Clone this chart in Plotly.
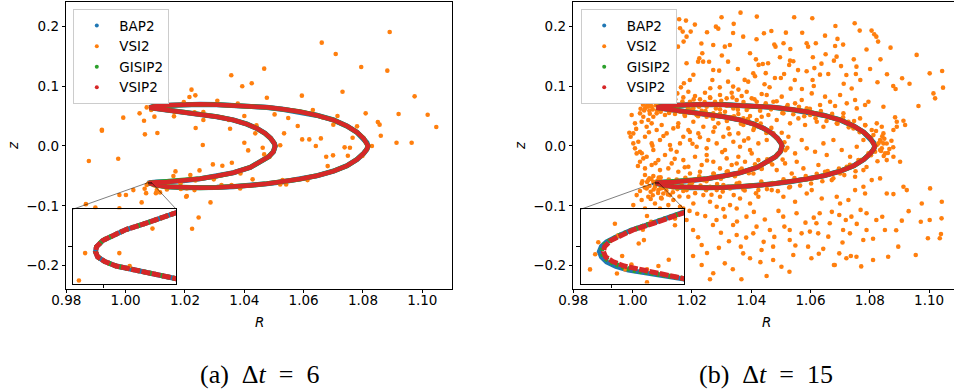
import plotly.graph_objects as go

# ---------------- data ----------------
SERIES = ["BAP2", "VSI2", "GISIP2", "VSIP2"]
COLORS = {"BAP2": "#1f77b4", "VSI2": "#ff7f0e", "GISIP2": "#2ca02c", "VSIP2": "#d62728"}
CAPTIONS = ["(a)\u00a0 Δ<i>t</i>\u00a0 =\u00a0 6", "(b)\u00a0 Δ<i>t</i>\u00a0 =\u00a0 15"]

# banana orbit (R, z): upper tip -> outer arc -> near lower tip
ORBIT_OUTER = [
    (1.0080, 0.0640), (1.0095, 0.0662), (1.0139, 0.0679), (1.0195, 0.0690), (1.0251, 0.0696),
    (1.0307, 0.0690), (1.0363, 0.0679), (1.0420, 0.0662), (1.0476, 0.0646), (1.0532, 0.0612),
    (1.0588, 0.0573), (1.0645, 0.0512), (1.0701, 0.0434), (1.0746, 0.0333), (1.0780, 0.0227),
    (1.0802, 0.0127), (1.0813, 0.0055), (1.0817, 0.0000), (1.0813, -0.0055), (1.0802, -0.0124),
    (1.0780, -0.0224), (1.0746, -0.0330), (1.0701, -0.0419), (1.0645, -0.0497), (1.0588, -0.0553),
    (1.0532, -0.0598), (1.0476, -0.0631), (1.0420, -0.0659), (1.0363, -0.0681), (1.0307, -0.0692),
    (1.0251, -0.0698), (1.0195, -0.0698), (1.0139, -0.0681), (1.0105, -0.0659),
]
# near lower tip -> inner arc -> back to upper tip
ORBIT_INNER = [
    (1.0105, -0.0605), (1.0139, -0.0603), (1.0195, -0.0581), (1.0251, -0.0547), (1.0307, -0.0503),
    (1.0363, -0.0447), (1.0420, -0.0358), (1.0453, -0.0274), (1.0482, -0.0180), (1.0498, -0.0096),
    (1.0504, 0.0000), (1.0501, 0.0044), (1.0489, 0.0127), (1.0470, 0.0211), (1.0442, 0.0294),
    (1.0408, 0.0367), (1.0363, 0.0434), (1.0307, 0.0489), (1.0251, 0.0528), (1.0195, 0.0568),
    (1.0139, 0.0601), (1.0105, 0.0615), (1.0090, 0.0624), (1.0080, 0.0640),
]
# lower tip detail (seen in the insets): from inner-branch end round the tip to outer-branch end
TIP_A = [
    (1.00870, -0.06109), (1.00854, -0.06125), (1.00838, -0.06140), (1.00821, -0.06155),
    (1.00809, -0.06171), (1.00799, -0.06184), (1.00793, -0.06201), (1.00792, -0.06214),
    (1.00794, -0.06228), (1.00801, -0.06241), (1.00812, -0.06253), (1.00828, -0.06264),
    (1.00847, -0.06274), (1.00870, -0.06287),
]
TIP_B_BAP2 = [
    (1.00870, -0.06107), (1.00851, -0.06126), (1.00835, -0.06141), (1.00819, -0.06156),
    (1.00806, -0.06172), (1.00795, -0.06188), (1.00790, -0.06200), (1.00788, -0.06214),
    (1.00790, -0.06228), (1.00795, -0.06242), (1.00804, -0.06254), (1.00816, -0.06264),
    (1.00832, -0.06273), (1.00851, -0.06280), (1.00870, -0.06288),
]
TIP_B_GISIP2 = [
    (1.00870, -0.06108), (1.00852, -0.06126), (1.00836, -0.06140), (1.00820, -0.06155),
    (1.00807, -0.06171), (1.00797, -0.06186), (1.00791, -0.06200), (1.00790, -0.06214),
    (1.00792, -0.06228), (1.00798, -0.06241), (1.00808, -0.06253), (1.00820, -0.06264),
    (1.00837, -0.06273), (1.00849, -0.06277), (1.00870, -0.06287),
]
TIPS = {
    "a": {"BAP2": TIP_A, "GISIP2": TIP_A, "VSIP2": TIP_A},
    "b": {"BAP2": TIP_B_BAP2, "GISIP2": TIP_B_GISIP2, "VSIP2": TIP_A},
}

VSI2_A = [
    (1.089, 0.1905), (1.0661, 0.1727), (1.0708, 0.1537), (1.0794, 0.132), (1.0882, 0.1259),
    (1.0467, 0.1292), (1.0356, 0.1181), (1.0425, 0.1047), (1.0393, 0.0997), (1.0222, 0.0941),
    (1.0731, 0.0907), (1.0594, 0.0841), (1.0974, 0.0829), (1.0235, 0.0846), (1.0215, 0.0818),
    (1.0139, 0.0768), (1.0127, 0.074), (1.0476, 0.0807), (1.0309, 0.0757), (1.0378, 0.0707),
    (1.0196, 0.0735), (1.1018, 0.0523), (1.1047, 0.0317), (1.0913, 0.0055), (1.0964, 0.0055),
    (1.092, 0.0534), (1.0809, 0.0545), (1.085, 0.04), (1.0856, 0.0356), (1.086, 0.0172),
    (1.083, 0.0), (1.078, 0.0328), (1.0765, 0.0138), (1.0756, -0.0029), (1.0749, -0.0163),
    (1.0714, 0.05), (1.07, 0.0356), (1.0699, -0.0157), (1.0676, -0.018), (1.0681, -0.0336),
    (1.0631, 0.0601), (1.0663, 0.0478), (1.058, 0.0333), (1.0595, 0.011), (1.0619, 0.011),
    (1.0641, -0.0001), (1.0658, 0.0127), (1.0534, 0.0211), (1.0548, 0.0467), (1.0502, 0.0528),
    (1.04, 0.05), (1.0441, 0.0344), (1.0437, 0.0211), (1.04, 0.0055), (1.0413, -0.0074),
    (1.0462, -0.0029), (1.0467, -0.0141), (1.0521, 0.0011), (1.0485, -0.018), (1.0352, 0.0289),
    (1.0348, 0.0434), (1.0324, 0.0473), (1.0262, 0.0567), (1.0262, 0.0434), (1.0236, 0.03),
    (1.0232, 0.0562), (1.026, 0.0016), (1.0165, 0.0567), (1.0163, 0.0495), (1.0196, 0.0567),
    (1.0071, 0.0645), (1.0086, 0.0601), (1.0097, 0.049), (1.0047, 0.0545), (1.0062, 0.0422),
    (1.0107, 0.0216), (1.0065, 0.0194), (0.9992, 0.0473), (0.992, 0.0272), (0.992, 0.0255),
    (0.9975, -0.0213), (0.9876, -0.0252), (1.0358, -0.028), (1.0326, -0.033), (1.0294, -0.0308),
    (1.0249, -0.0408), (1.0218, -0.0486), (1.0168, -0.0425), (1.0161, -0.0503), (1.0387, -0.0458),
    (1.0428, -0.0558), (1.0357, -0.0653), (1.0386, -0.0709), (1.0323, -0.0653), (1.0297, -0.0558),
    (1.0235, -0.0575), (1.0232, -0.0737), (1.0185, -0.0625), (1.0186, -0.072), (1.0139, -0.0726),
    (1.0105, -0.0737), (1.0116, -0.0776), (1.0064, -0.0715), (1.0071, -0.0653), (1.0097, -0.0659),
    (1.0142, -0.0625), (1.0206, -0.0709), (1.0529, -0.057), (1.0541, -0.0642), (1.0521, -0.0642),
    (1.0613, -0.057), (1.0206, -0.0837), (1.0054, -0.0943), (1.0026, -0.0737), (1.0001, -0.082),
    (0.9979, -0.082), (1.0286, -0.0943), (1.0246, -0.1194), (1.0224, -0.1383), (0.9866, -0.0972),
    (0.9898, -0.1027), (1.0738, -0.0023), (1.0798, -0.0168), (1.0069, -0.0788), (1.0102, -0.0788),
    (0.9979, -0.1043), (1.0204, -0.0849),
    (1.00847, -0.06152), (1.00815, -0.06218), (1.00782, -0.06218), (1.00825, -0.06253), (1.00776, -0.06292),
]

VSI2_B = [
    # upper region
    (1.0364, 0.2228), (1.03, 0.215), (1.0419, 0.2162), (1.0545, 0.215), (1.0606, 0.2134),
    (1.0766, 0.1928), (1.0806, 0.1928), (1.0684, 0.2006), (1.0649, 0.1844), (1.0157, 0.2117),
    (1.018, 0.2095), (1.021, 0.2028), (1.016, 0.1967), (1.0169, 0.1911), (1.0196, 0.1911),
    (1.0251, 0.19), (1.0281, 0.1994), (1.0289, 0.1961), (1.0339, 0.1889), (1.0443, 0.1883),
    (1.0517, 0.1894), (1.0815, 0.1866), (1.0822, 0.1827), (1.087, 0.1643), (1.0153, 0.166),
    (1.0182, 0.1827), (1.0172, 0.1744), (1.0225, 0.1465), (1.0235, 0.1549), (1.0221, 0.1409),
    (1.0238, 0.1409), (1.0182, 0.1382), (1.0272, 0.1688), (1.0328, 0.1688), (1.0373, 0.1827),
    (1.0418, 0.1783), (1.0396, 0.1549), (1.0416, 0.1448), (1.0439, 0.137), (1.0478, 0.1694),
    (1.0482, 0.166), (1.0509, 0.1716), (1.0531, 0.1426), (1.0528, 0.1354), (1.0587, 0.1716),
    (1.0592, 0.166), (1.0618, 0.1716), (1.0608, 0.1482), (1.0683, 0.1671), (1.071, 0.1694),
    (1.0688, 0.1493), (1.0679, 0.1426), (1.0746, 0.1448), (1.0828, 0.1744), (1.0755, 0.1326),
    (1.0836, 0.1448), (1.0637, 0.1376), (1.0542, 0.1415), (1.0457, 0.1382), (1.0311, 0.166),
    (1.0322, 0.1409), (1.0272, 0.127), (1.0292, 0.1259), (1.0269, 0.1103), (1.0322, 0.1075),
    (1.0294, 0.098), (1.0339, 0.0992), (1.039, 0.1075), (1.0407, 0.1214), (1.0413, 0.1164),
    (1.048, 0.1136), (1.05, 0.1136), (1.0511, 0.1203), (1.0445, 0.1031), (1.0533, 0.0958),
    (1.0587, 0.1248), (1.0607, 0.1103), (1.0611, 0.1003), (1.066, 0.1203), (1.0721, 0.1187),
    (1.0753, 0.1203), (1.0909, 0.1131), (1.1002, 0.1214), (1.1044, 0.1253), (1.0879, 0.1003),
    (1.1047, 0.0975), (1.0547, 0.1103), (1.0173, 0.1047), (1.0193, 0.1103), (1.0163, 0.098),
    (1.0125, 0.1321), (1.0141, 0.1183), (1.0108, 0.1052), (1.0205, 0.1191), (1.0258, 0.1408),
    (1.0301, 0.1512), (1.0355, 0.1287), (1.0378, 0.1104), (1.0449, 0.1217), (1.0462, 0.0982),
    (1.0497, 0.1482), (1.0558, 0.1268), (1.0571, 0.0951), (1.0632, 0.1192), (1.0651, 0.1534),
    (1.0703, 0.1335), (1.0712, 0.1041), (1.0768, 0.1102), (1.0789, 0.1611), (1.0801, 0.1287),
    (1.0858, 0.1199), (1.0887, 0.0952), (1.0934, 0.1041), (1.0232, 0.1712), (1.0341, 0.2041),
    (1.0468, 0.1921), (1.0572, 0.1893), (1.0691, 0.1789), (1.0749, 0.2051), (1.0262, 0.0965),
    (1.0357, 0.0942), (1.0425, 0.1355), (1.0613, 0.1301), (1.0532, 0.1621), (1.0131, 0.0998),
    (1.0098, 0.0951), (1.0061, 0.0922), (1.0739, 0.0961), (1.0826, 0.1065), (1.0958, 0.1522),
    # left / centre band (z 0.09 .. -0.105)
    (1.00418, 0.0868), (1.00609, 0.0812), (1.0090, 0.0890), (1.01036, 0.0796), (1.01205, 0.0851),
    (1.01374, 0.0768), (1.01509, 0.0879), (1.01711, 0.0812), (1.0188, 0.0907), (1.01936, 0.074),
    (1.02105, 0.0835), (1.02273, 0.0779), (1.02442, 0.089), (1.02611, 0.0812), (1.0278, 0.074),
    (1.02948, 0.0851), (1.03173, 0.0796), (1.03342, 0.089), (1.03511, 0.0768), (1.03679, 0.0835),
    (1.03848, 0.0907), (1.04017, 0.0796), (1.04186, 0.074), (1.04354, 0.0868), (1.00699, 0.074),
    (1.0053, 0.0712), (1.00305, 0.0768),
    (1.00418, 0.0628), (1.00564, 0.0589), (1.00812, 0.0545), (1.00946, 0.0612), (1.01093, 0.0517),
    (1.01261, 0.0589), (1.0143, 0.0534), (1.01599, 0.0573), (1.01767, 0.05), (1.01936, 0.0556),
    (1.02161, 0.0517), (1.0233, 0.0589), (1.02498, 0.0489), (1.02723, 0.0545), (1.02948, 0.05),
    (1.03117, 0.0573), (1.03342, 0.0478), (1.03567, 0.0534), (1.03736, 0.0461), (1.03961, 0.05),
    (1.04186, 0.0433), (1.04354, 0.0489), (1.00249, 0.0545), (1.00362, 0.0489), (1.0053, 0.0433),
    (1.00699, 0.0489), (1.00812, 0.0684), (1.0098, 0.0656), (1.01149, 0.0701), (1.01374, 0.0645),
    (1.01711, 0.0684), (1.02049, 0.0628), (1.02498, 0.0656), (1.02948, 0.0612), (1.03398, 0.0628),
    (1.03848, 0.06), (1.00643, 0.0656), (1.00474, 0.0667),
    (0.99968, 0.0517), (1.0008, 0.0378), (1.00305, 0.0405), (1.00474, 0.0322), (1.00643, 0.0378),
    (1.00812, 0.0266), (1.0098, 0.035), (1.01149, 0.021), (1.01374, 0.0294), (1.01542, 0.0378),
    (1.01711, 0.0155), (1.0188, 0.0266), (1.02049, 0.0405), (1.02217, 0.021), (1.02386, 0.0322),
    (1.02555, 0.0099), (1.02723, 0.0238), (1.02892, 0.0378), (1.03061, 0.0155), (1.03229, 0.0294),
    (1.03398, 0.0071), (1.03567, 0.021), (1.03736, 0.035), (1.03904, 0.0127), (1.04073, 0.0266),
    (1.04242, 0.0043), (1.00024, 0.021), (1.00193, 0.0071), (1.00418, 0.0155), (1.00643, 0.0043),
    (1.00924, 0.0099), (1.01261, 0.0015), (1.01599, 0.0043), (1.01936, 0.0099), (1.02161, -0.0013),
    (1.02498, -0.004), (1.02836, 0.0043), (1.03117, -0.0068), (1.03623, -0.0013), (1.03961, -0.0068),
    (0.99889, 0.0222), (0.99934, 0.0155), (1.00024, 0.0043), (1.0008, -0.004), (1.00137, -0.0124),
    (1.00249, -0.0263), (1.00362, -0.0208),
    (1.00249, -0.0096), (1.00474, -0.018), (1.00699, -0.0068), (1.00868, -0.0236), (1.01093, -0.0152),
    (1.01318, -0.0291), (1.01486, -0.0096), (1.01711, -0.0236), (1.0188, -0.0347), (1.02105, -0.018),
    (1.0233, -0.0319), (1.02498, -0.0152), (1.02723, -0.0263), (1.02948, -0.0375), (1.03173, -0.0208),
    (1.03342, -0.0319), (1.03567, -0.018), (1.03792, -0.0263), (1.04017, -0.0124), (1.04242, -0.0236),
    (1.04354, -0.0375), (1.00418, -0.0375), (1.00643, -0.0319), (1.00924, -0.0403), (1.01205, -0.0375),
    (1.01542, -0.0431), (1.01936, -0.0459), (1.02273, -0.0431), (1.02723, -0.0459), (1.03173, -0.0431),
    (1.03623, -0.0403), (1.04073, -0.0459),
    (1.00418, -0.0486), (1.00564, -0.0542), (1.00699, -0.0503), (1.00834, -0.0581), (1.00946, -0.0525),
    (1.01059, -0.0654), (1.01205, -0.0598), (1.01351, -0.0693), (1.01486, -0.0559), (1.01655, -0.0654),
    (1.01824, -0.0737), (1.01992, -0.0615), (1.02161, -0.0693), (1.02386, -0.057), (1.02611, -0.0681),
    (1.02836, -0.0737), (1.03061, -0.0654), (1.03286, -0.0709), (1.03511, -0.0626), (1.03736, -0.0726),
    (1.03961, -0.067), (1.04242, -0.0737), (1.00305, -0.0626), (1.00474, -0.0709), (1.00609, -0.0765),
    (1.00868, -0.0737), (1.01036, -0.0793), (1.01261, -0.0821), (1.0053, -0.057), (1.00755, -0.0681),
    (1.00946, -0.0709), (1.01149, -0.0681), (1.00699, -0.0598),
    (1.00137, -0.0821), (1.00305, -0.0904), (1.0053, -0.0849), (1.00755, -0.096), (1.0098, -0.0877),
    (1.01205, -0.0988), (1.01374, -0.0904), (1.01599, -0.1016), (1.0188, -0.0849), (1.02049, -0.096),
    (1.02386, -0.0821), (1.02611, -0.0932), (1.02948, -0.0849), (1.03286, -0.0988), (1.03623, -0.0877),
    (1.03961, -0.096), (1.04242, -0.0849), (1.00024, -0.0988), (1.00418, -0.1044), (1.00924, -0.1044),
    (1.01711, -0.1044), (1.02836, -0.1016), (1.03511, -0.1044),
    # right band
    (1.04524, 0.0851), (1.04749, 0.074), (1.0503, 0.0824), (1.05198, 0.0656), (1.0548, 0.0712),
    (1.05705, 0.0768), (1.05873, 0.0628), (1.06042, 0.0879), (1.06323, 0.0684), (1.06492, 0.0824),
    (1.06661, 0.074), (1.06829, 0.0667), (1.06998, 0.0851), (1.07223, 0.0712), (1.07504, 0.0768),
    (1.0756, 0.0628), (1.07841, 0.0684), (1.07954, 0.074), (1.0846, 0.0656), (1.08853, 0.0478),
    (1.0891, 0.0405), (1.09135, 0.0422), (1.09191, 0.035), (1.09641, 0.0667), (1.10147, 0.0879),
    (1.10203, 0.0796),
    (1.0458, 0.0517), (1.04861, 0.0433), (1.05086, 0.0545), (1.05311, 0.0378), (1.05592, 0.0461),
    (1.05817, 0.035), (1.05986, 0.0517), (1.06211, 0.0405), (1.06436, 0.0322), (1.06661, 0.0489),
    (1.06885, 0.0378), (1.0711, 0.0545), (1.07279, 0.0405), (1.07448, 0.0294), (1.07673, 0.0461),
    (1.07841, 0.035), (1.08066, 0.0266), (1.08235, 0.0378), (1.08404, 0.0322), (1.0846, 0.021),
    (1.08797, 0.0266), (1.0891, 0.0322),
    (1.04524, 0.0099), (1.04749, 0.021), (1.0503, 0.0015), (1.05255, 0.0155), (1.0548, -0.0124),
    (1.05705, 0.0099), (1.05873, -0.004), (1.06154, -0.0096), (1.06436, 0.0043), (1.06548, -0.0152),
    (1.06773, 0.0099), (1.07054, -0.0068), (1.07335, -0.018), (1.0756, -0.0013), (1.07785, 0.0099),
    (1.07954, -0.0124), (1.08122, 0.0182), (1.08291, 0.0043), (1.08404, -0.004), (1.08572, -0.0236),
    (1.08797, -0.018), (1.09022, -0.0263), (1.08235, 0.0015), (1.08347, -0.0068), (1.0846, 0.0043),
    (1.08179, -0.0096), (1.08347, 0.0099), (1.08516, -0.0124),
    (1.04636, -0.0263), (1.04861, -0.0403), (1.05142, -0.0291), (1.05367, -0.0459), (1.05536, -0.0263),
    (1.05761, -0.0375), (1.06042, -0.0542), (1.06267, -0.0319), (1.06492, -0.0431), (1.06717, -0.057),
    (1.06998, -0.0459), (1.07223, -0.0347), (1.07504, -0.0514), (1.07785, -0.0403), (1.08066, -0.057),
    (1.08347, -0.0542), (1.07616, -0.0236),
    (1.04692, -0.0737), (1.05086, -0.0849), (1.05311, -0.0681), (1.0548, -0.0932), (1.05873, -0.0793),
    (1.06042, -0.0737), (1.06379, -0.0877), (1.06885, -0.0849), (1.06998, -0.096), (1.07279, -0.0904),
    (1.07504, -0.0737), (1.07785, -0.0681), (1.07841, -0.0793), (1.08572, -0.0793), (1.08797, -0.0804),
    (1.09135, -0.0681), (1.09247, -0.0737), (1.09753, -0.096), (1.10034, -0.0709), (1.10428, -0.0932),
    # lower region
    (1.0182, -0.1237), (1.0204, -0.1404), (1.0221, -0.1526), (1.0233, -0.1655), (1.0204, -0.1838),
    (1.0233, -0.1989), (1.0272, -0.2128), (1.0261, -0.2228), (1.0311, -0.1961), (1.0351, -0.1487),
    (1.0339, -0.132), (1.0365, -0.1682), (1.0373, -0.1794), (1.0396, -0.1877), (1.0367, -0.2228),
    (1.0418, -0.1348), (1.0435, -0.1738), (1.0452, -0.2173), (1.0474, -0.1682), (1.0502, -0.2017),
    (1.053, -0.1404), (1.0542, -0.1822), (1.0508, -0.1181), (1.0553, -0.1125), (1.057, -0.146),
    (1.0592, -0.1682), (1.0603, -0.1877), (1.0626, -0.146), (1.0631, -0.1125), (1.0665, -0.1292),
    (1.066, -0.1515), (1.0682, -0.1989), (1.0697, -0.1153), (1.071, -0.1404), (1.0789, -0.1125),
    (1.0822, -0.1237), (1.0851, -0.1404), (1.0778, -0.1571), (1.0755, -0.185), (1.0811, -0.1905),
    (1.0896, -0.1682), (1.053, -0.1571), (1.0463, -0.1404), (1.0311, -0.1181), (1.0283, -0.1237),
    (1.0384, -0.1181), (1.0738, -0.1181), (1.0719, -0.1237), (1.0733, -0.146), (1.0721, -0.1877),
    (1.0736, -0.1838), (1.0679, -0.1989), (1.0972, -0.1265), (1.1002, -0.1237), (1.1042, -0.1209),
    (1.0908, -0.1248), (1.0996, -0.1543), (1.1036, -0.1543), (1.104, -0.1471), (1.0697, -0.1794),
    (1.062, -0.1292), (1.0789, -0.1404), (1.0474, -0.1905), (1.0407, -0.146),
    (1.0192, -0.1085), (1.0245, -0.1172), (1.0271, -0.1321), (1.0298, -0.1449), (1.0325, -0.1592),
    (1.0352, -0.1262), (1.0383, -0.1531), (1.0409, -0.1102), (1.0446, -0.1229), (1.0478, -0.1519),
    (1.0512, -0.1347), (1.0549, -0.1662), (1.0583, -0.1281), (1.0611, -0.1198), (1.0643, -0.1719),
    (1.0672, -0.1101), (1.0708, -0.1612), (1.0756, -0.1302), (1.0769, -0.1068), (1.0811, -0.1551),
    (1.0842, -0.1183), (1.0889, -0.1409), (1.0931, -0.1089), (1.0251, -0.1789), (1.0291, -0.1702),
    (1.0338, -0.2061), (1.0431, -0.1941), (1.0529, -0.2102), (1.0628, -0.1801), (1.0771, -0.2012),
    (1.0218, -0.1132), (1.0306, -0.1055), (1.0492, -0.1085), (1.0598, -0.1431), (1.0442, -0.1602),
    (1.0955, -0.1821), (1.0862, -0.1852),
    # dense clusters at the tips and along the orbit
    (1.0052, 0.0655), (1.0061, 0.0702), (1.0068, 0.0611), (1.0074, 0.0779), (1.0083, 0.0596),
    (1.0089, 0.0728), (1.0095, 0.0571), (1.0102, 0.0749), (1.0108, 0.0628), (1.0117, 0.0808),
    (1.0123, 0.0553), (1.0131, 0.0723), (1.0138, 0.0607), (1.0144, 0.0782), (1.0151, 0.0662),
    (1.0058, 0.0538), (1.0046, 0.0745), (1.0039, 0.0592), (1.0066, 0.0832), (1.0112, 0.0702),
    (1.0127, 0.0651), (1.0099, 0.0846), (1.0078, 0.0681), (1.0035, 0.0689), (1.0027, 0.0621),
    (1.0049, -0.0603), (1.0057, -0.0668), (1.0063, -0.0552), (1.0071, -0.0727), (1.0079, -0.0641),
    (1.0086, -0.0786), (1.0093, -0.0577), (1.0101, -0.0702), (1.0107, -0.0621), (1.0114, -0.0748),
    (1.0122, -0.0562), (1.0128, -0.0659), (1.0136, -0.0773), (1.0143, -0.0612), (1.0151, -0.0721),
    (1.0158, -0.0845), (1.0041, -0.0695), (1.0033, -0.0589), (1.0068, -0.0823), (1.0096, -0.0868),
    (1.0119, -0.0812), (1.0088, -0.0529), (1.0109, -0.0688), (1.0025, -0.0752), (1.0061, -0.0887),
    (1.0168, 0.0742), (1.0187, 0.0631), (1.0206, 0.0778), (1.0224, 0.0655), (1.0243, 0.0733),
    (1.0262, 0.0801), (1.0281, 0.0628), (1.0299, 0.0755), (1.0318, 0.0671), (1.0337, 0.0812),
    (1.0355, 0.0607), (1.0374, 0.0733), (1.0393, 0.0649), (1.0411, 0.0781), (1.0430, 0.0588),
    (1.0449, 0.0712), (1.0467, 0.0612), (1.0486, 0.0747), (1.0505, 0.0551), (1.0523, 0.0686),
    (1.0542, 0.0529), (1.0561, 0.0655), (1.0579, 0.0498), (1.0598, 0.0621), (1.0617, 0.0462),
    (1.0635, 0.0583), (1.0654, 0.0417), (1.0673, 0.0536), (1.0691, 0.0372), (1.0710, 0.0481),
    (1.0729, 0.0311), (1.0747, 0.0418), (1.0766, 0.0231), (1.0785, 0.0345), (1.0799, 0.0148),
    (1.0821, 0.0251), (1.0836, 0.0079), (1.0842, 0.0162),
    (1.0171, -0.0752), (1.0193, -0.0641), (1.0211, -0.0788), (1.0229, -0.0663), (1.0248, -0.0741),
    (1.0266, -0.0815), (1.0285, -0.0636), (1.0304, -0.0762), (1.0322, -0.0681), (1.0341, -0.0821),
    (1.0360, -0.0615), (1.0378, -0.0742), (1.0397, -0.0657), (1.0416, -0.0792), (1.0434, -0.0594),
    (1.0453, -0.0721), (1.0472, -0.0618), (1.0490, -0.0755), (1.0509, -0.0558), (1.0528, -0.0693),
    (1.0546, -0.0535), (1.0565, -0.0662), (1.0584, -0.0503), (1.0602, -0.0628), (1.0621, -0.0466),
    (1.0640, -0.0589), (1.0658, -0.0421), (1.0677, -0.0541), (1.0696, -0.0376), (1.0714, -0.0487),
    (1.0733, -0.0316), (1.0752, -0.0423), (1.0770, -0.0236), (1.0789, -0.0351), (1.0804, -0.0153),
    (1.0826, -0.0256), (1.0838, -0.0084), (1.0847, -0.0167),
    (1.0175, 0.0521), (1.0198, 0.0603), (1.0221, 0.0498), (1.0246, 0.0582), (1.0271, 0.0457),
    (1.0295, 0.0538), (1.0318, 0.0418), (1.0342, 0.0497), (1.0365, 0.0371), (1.0389, 0.0448),
    (1.0410, 0.0301), (1.0432, 0.0376), (1.0451, 0.0218), (1.0468, 0.0302), (1.0486, 0.0131),
    (1.0503, 0.0221), (1.0512, 0.0063), (1.0522, -0.0031),
    (1.0178, -0.0531), (1.0201, -0.0612), (1.0225, -0.0508), (1.0249, -0.0589), (1.0274, -0.0463),
    (1.0298, -0.0547), (1.0321, -0.0425), (1.0345, -0.0505), (1.0368, -0.0378), (1.0392, -0.0455),
    (1.0413, -0.0307), (1.0435, -0.0384), (1.0454, -0.0224), (1.0471, -0.0309), (1.0489, -0.0138),
    (1.0506, -0.0228), (1.0515, -0.0071),
    (1.0012, 0.0285), (1.0031, -0.0121), (1.0055, 0.0229), (1.0077, -0.0287), (1.0104, 0.0167),
    (1.0129, -0.0058), (1.0153, 0.0321), (1.0176, -0.0356), (1.0202, 0.0037), (1.0227, 0.0145),
    (1.0251, -0.0243), (1.0277, 0.0312), (1.0302, -0.0102), (1.0327, 0.0198), (1.0351, -0.0294),
    (1.0376, 0.0089), (1.0018, -0.0335), (1.0067, 0.0004), (1.0142, -0.0215), (1.0193, 0.0234),
    (1.0857, 0.0042), (1.0866, -0.0051), (1.0849, 0.0121), (1.0873, 0.0087), (1.0861, -0.0118),
    (1.0879, -0.0021),
    # inside the inset window
    (1.00803, -0.06139), (1.00834, -0.06118), (1.00861, -0.06125), (1.00838, -0.06134), (1.0083, -0.06155),
    (1.00806, -0.06171), (1.00831, -0.06183), (1.00826, -0.06192), (1.00861, -0.06143), (1.00784, -0.06221),
    (1.00787, -0.06189), (1.0081, -0.06226), (1.00855, -0.06236), (1.00779, -0.06262), (1.00805, -0.06273),
    (1.00813, -0.06262), (1.00834, -0.06262), (1.00834, -0.06297), (1.00819, -0.06249), (1.00845, -0.06253),
]
VSI2 = {"a": VSI2_A, "b": VSI2_B}

X_TICKS = [0.98, 1.00, 1.02, 1.04, 1.06, 1.08, 1.10]
X_TICK_LABELS = ["0.98", "1.00", "1.02", "1.04", "1.06", "1.08", "1.10"]
Y_TICKS = [-0.2, -0.1, 0.0, 0.1, 0.2]
Y_TICK_LABELS = ["\u22120.2", "\u22120.1", "0.0", "0.1", "0.2"]
X_RANGE_A = [0.98, 1.1100]
X_RANGE_B = [0.98, 1.1084]
Y_RANGE = [-0.2385, 0.2411]
INSET_X_RANGE = [1.0077, 1.0087]
INSET_Y_RANGE = [-0.0630, -0.0610]
INSET_X_TICKS = [1.008]
INSET_Y_TICKS = [-0.062]

# ---------------- layout geometry (pixels -> paper) ----------------
W, H = 954, 391
def px(x): return x / W
def py(y): return 1 - y / H

MAIN_DOM_X = {"a": [px(66.3), px(452.0)], "b": [px(573.3), 1.0]}
MAIN_DOM_Y = [py(288.7), py(1.7)]
INSET_DOM_X = {"a": [px(72.7), px(176.3)], "b": [px(580.7), px(684.3)]}
INSET_DOM_Y = [py(283.5), py(209.3)]
X_RANGES = {"a": X_RANGE_A, "b": X_RANGE_B}
AX = {"a": ("x", "y", "x3", "y3", "legend"), "b": ("x2", "y2", "x4", "y4", "legend2")}


def unzip(pts):
    return [p[0] for p in pts], [p[1] for p in pts]


fig = go.Figure()

LINE_W = {"BAP2": 5.2, "GISIP2": 4.8, "VSIP2": 4.5}
INSET_DASH = {"BAP2": "solid", "GISIP2": "3px,3px", "VSIP2": "9px,1.5px"}

for panel in ("a", "b"):
    xa, ya, xi, yi, leg = AX[panel]
    for s in SERIES:
        if s == "VSI2":
            rx, rz = unzip(VSI2[panel])
            for (xx, yy) in ((xa, ya), (xi, yi)):
                fig.add_trace(go.Scatter(x=rx, y=rz, mode="markers", xaxis=xx, yaxis=yy,
                                         marker=dict(color=COLORS[s], size=4.6, line=dict(width=0)),
                                         showlegend=False, hoverinfo="skip"))
        else:
            pts = ORBIT_OUTER + list(reversed(TIPS[panel][s])) + ORBIT_INNER
            rx, rz = unzip(pts)
            fig.add_trace(go.Scatter(x=rx, y=rz, mode="lines", xaxis=xa, yaxis=ya,
                                     line=dict(color=COLORS[s], width=LINE_W[s]),
                                     showlegend=False, hoverinfo="skip"))
            fig.add_trace(go.Scatter(x=rx, y=rz, mode="lines", xaxis=xi, yaxis=yi,
                                     line=dict(color=COLORS[s], width=5, dash=INSET_DASH[s]),
                                     showlegend=False, hoverinfo="skip"))
    # legend entries
    for s in SERIES:
        fig.add_trace(go.Scatter(x=[None], y=[None], mode="markers", name=s, xaxis=xa, yaxis=ya,
                                 marker=dict(color=COLORS[s], size=4), legend=leg, showlegend=True))

axis_common = dict(showline=True, linecolor="black", linewidth=1, ticks="outside", ticklen=3.5,
                   tickwidth=1, tickcolor="black", showgrid=False, zeroline=False, automargin=False,
                   tickfont=dict(family="DejaVu Sans", size=13.5, color="black"))

layout = dict(template="none", width=W, height=H, autosize=False,
              margin=dict(l=0, r=0, t=0, b=0, pad=0), paper_bgcolor="white",
              plot_bgcolor="white", font=dict(family="DejaVu Sans", size=13.5, color="black"))

for panel in ("a", "b"):
    xa, ya, xi, yi, leg = AX[panel]
    xk = "xaxis" + xa[1:]
    yk = "yaxis" + ya[1:]
    layout[xk] = dict(axis_common, domain=MAIN_DOM_X[panel], range=X_RANGES[panel], anchor=ya,
                      tickvals=X_TICKS, ticktext=X_TICK_LABELS, mirror=True, ticklabelstandoff=-4)
    layout[yk] = dict(axis_common, domain=MAIN_DOM_Y, range=Y_RANGE, anchor=xa,
                      tickvals=Y_TICKS, ticktext=Y_TICK_LABELS, mirror=(panel == "a"))
    layout["xaxis" + xi[1:]] = dict(axis_common, domain=INSET_DOM_X[panel], range=INSET_X_RANGE, anchor=yi,
                                    tickvals=INSET_X_TICKS, showticklabels=False, mirror=True)
    layout["yaxis" + yi[1:]] = dict(axis_common, domain=INSET_DOM_Y, range=INSET_Y_RANGE, anchor=xi,
                                    tickvals=INSET_Y_TICKS, showticklabels=False, mirror=True)
    leg_left = {"a": 73.3, "b": 580.7}[panel]
    layout[leg] = dict(x=px(leg_left), y=py(9.3), xanchor="left", yanchor="top", bgcolor="white",
                       bordercolor="#cccccc", borderwidth=1, tracegroupgap=0, itemwidth=35,
                       font=dict(family="DejaVu Sans", size=13.5, color="black"))

fig.update_layout(**layout)

# inset indicator (mark_inset style): tiny rectangle + two connector lines
shapes = []
annotations = []
for panel in ("a", "b"):
    xa, ya, xi, yi, leg = AX[panel]
    dx0, dx1 = MAIN_DOM_X[panel]
    rx0, rx1 = X_RANGES[panel]
    dy0, dy1 = MAIN_DOM_Y
    ry0, ry1 = Y_RANGE

    def to_data_x(p):
        return rx0 + (p - dx0) / (dx1 - dx0) * (rx1 - rx0)

    def to_data_y(p):
        return ry0 + (p - dy0) / (dy1 - dy0) * (ry1 - ry0)

    ix0, ix1 = INSET_DOM_X[panel]
    itop = INSET_DOM_Y[1]
    grey = "rgba(0,0,0,0.5)"
    shapes.append(dict(type="rect", xref=xa, yref=ya, x0=INSET_X_RANGE[0], x1=INSET_X_RANGE[1],
                       y0=INSET_Y_RANGE[0], y1=INSET_Y_RANGE[1], line=dict(color=grey, width=1)))
    shapes.append(dict(type="line", xref=xa, yref=ya, x0=INSET_X_RANGE[0], y0=INSET_Y_RANGE[1],
                       x1=to_data_x(ix0), y1=to_data_y(itop), line=dict(color=grey, width=1)))
    shapes.append(dict(type="line", xref=xa, yref=ya, x0=INSET_X_RANGE[1], y0=INSET_Y_RANGE[1],
                       x1=to_data_x(ix1), y1=to_data_y(itop), line=dict(color=grey, width=1)))

    cx = (dx0 + (dx0 + (MAIN_DOM_X["a"][1] - MAIN_DOM_X["a"][0]))) / 2
    annotations.append(dict(text="<i>R</i>", x=cx, y=py(321.5), xref="paper", yref="paper",
                            showarrow=False, xanchor="center", yanchor="middle",
                            font=dict(family="DejaVu Sans", size=13.5, color="black")))
    annotations.append(dict(text="<i>z</i>", x=dx0 - px(54), y=py(145.7), xref="paper", yref="paper",
                            showarrow=False, textangle=-90, xanchor="center", yanchor="middle",
                            font=dict(family="DejaVu Sans", size=13.5, color="black")))
    annotations.append(dict(text=CAPTIONS[0 if panel == "a" else 1], x=cx, y=py(374), xref="paper",
                            yref="paper", showarrow=False, xanchor="center", yanchor="middle",
                            font=dict(family="Liberation Serif", size=26, color="black")))

fig.update_layout(shapes=shapes, annotations=annotations)
fig.write_html("out.html", config={"responsive": False, "displayModeBar": False},
               post_script="document.body.style.margin='0';document.body.style.overflow='hidden';")
